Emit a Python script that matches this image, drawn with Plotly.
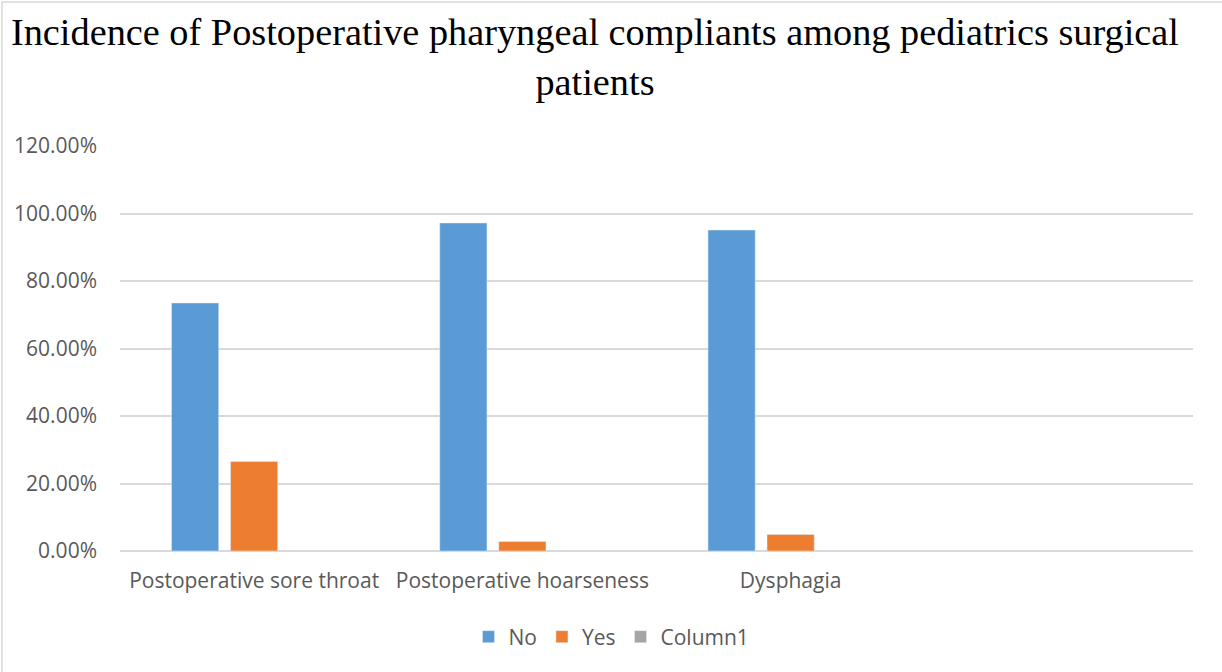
import plotly.graph_objects as go

categories = ["Postoperative sore throat", "Postoperative hoarseness", "Dysphagia"]
no_values = [0.735, 0.972, 0.951]
yes_values = [0.265, 0.028, 0.049]
column1_values = [None, None, None]
y_ticks = [0, 0.2, 0.4, 0.6, 0.8, 1.0, 1.2]

W, H = 1222, 672
ml, mr, mt, mb = 120, 29, 146, 121
pw, ph = W - ml - mr, H - mt - mb

fig = go.Figure()
fig.add_bar(name="No", x=categories, y=no_values, marker_color="#5B9BD5")
fig.add_bar(name="Yes", x=categories, y=yes_values, marker_color="#ED7D31")
fig.add_bar(name="Column1", x=categories, y=column1_values, marker_color="#A5A5A5")

txt = "#595959"
fig.update_layout(
    width=W, height=H,
    margin=dict(l=ml, r=mr, t=mt, b=mb, autoexpand=False),
    paper_bgcolor="white", plot_bgcolor="white",
    barmode="group", bargap=0.34, bargroupgap=0.2,
    font=dict(family="Open Sans", size=21, color=txt),
    title=dict(
        text="Incidence of Postoperative pharyngeal compliants among pediatrics surgical<br>patients",
        x=595 / W, xref="container", xanchor="center",
        y=1 - 45 / H, yref="container", yanchor="top",
        font=dict(family="Liberation Serif", size=38.3, color="black"),
    ),
    legend=dict(orientation="h", x=(611.5 - ml) / pw, xanchor="center", y=-86 / ph, yanchor="middle",
                font=dict(size=21, color=txt), itemwidth=30, traceorder="normal"),
    xaxis=dict(type="category", categoryarray=categories, range=[-0.5, 3.5],
               showgrid=False, showline=False, ticks="", ticklabelstandoff=15,
               automargin=False, tickfont=dict(size=21, color=txt)),
    yaxis=dict(range=[0, 1.2], tickvals=y_ticks, tickformat=".2%",
               showgrid=True, gridcolor="#D9D9D9", gridwidth=1.5,
               zeroline=True, zerolinecolor="#D9D9D9", zerolinewidth=1.5,
               showline=False, ticks="", ticklabelstandoff=22,
               automargin=False, tickfont=dict(size=21, color=txt)),
    shapes=[dict(type="rect", xref="paper", yref="paper",
                 x0=(2 - ml) / pw, x1=(W + 10 - ml) / pw,
                 y0=-(H + 10 - mt - ph) / ph, y1=1 + (mt - 2) / ph,
                 line=dict(color="#D9D9D9", width=1.5), layer="below")],
)

fig.write_html("out.html", config={"displayModeBar": False},
               post_script="document.body.style.margin='0';")
